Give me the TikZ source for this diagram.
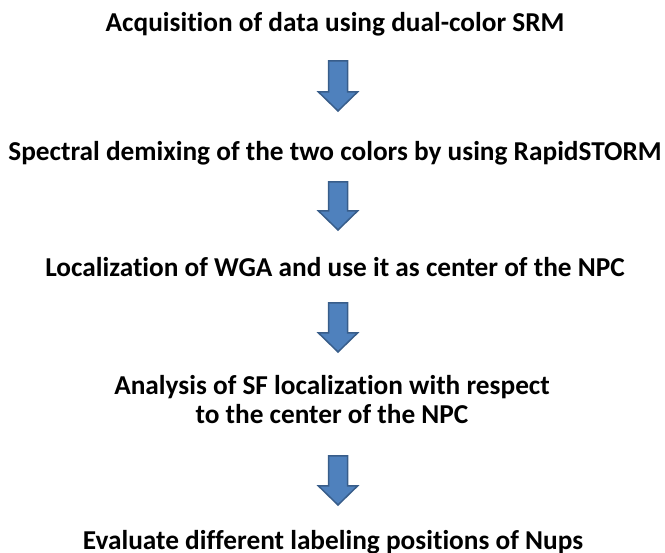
\documentclass[tikz,border=0pt]{standalone}
\usepackage{fontspec}
\setmainfont{Carlito}[Ligatures=NoCommon]
\usetikzlibrary{positioning}
\definecolor{arrowfill}{RGB}{79,129,189}
\definecolor{arrowline}{RGB}{56,93,138}
% block arrow pointing down: centre x, top y, tip y
\newcommand{\flowarrow}[3]{%
  \filldraw[fill=arrowfill,draw=arrowline,line width=1.5pt,line join=miter]
    (#1-9.5,#2) -- (#1+9.5,#2) -- (#1+9.5,#3-19) -- (#1+19.5,#3-19)
    -- (#1,#3) -- (#1-19.5,#3-19) -- (#1-9.5,#3-19) -- cycle;
}

\begin{document}
\begin{tikzpicture}[x=1pt,y=-1pt,every node/.style={font=\bfseries\fontsize{27.3}{29}\selectfont,align=center}]
    \useasboundingbox (0,0) rectangle (665,553);
    \node[anchor=base] (acq) at (335,32) {Acquisition of data using dual-color SRM};
    \node[anchor=base] (demix) at (335,161) {Spectral demixing of the two colors by using RapidSTORM};
    \node[anchor=base] (wga) at (335,277) {Localization of WGA and use it as center of the NPC};
    \node (sf) at (332,400) {Analysis of SF localization with respect\\to the center of the NPC};
    \node[anchor=base] (nups) at (333,550) {Evaluate different labeling positions of Nups};
    \flowarrow{338}{61}{111}
    \flowarrow{338}{182}{230}
    \flowarrow{338}{303}{352}
    \flowarrow{338}{456}{505}
  \end{tikzpicture}
\end{document}
